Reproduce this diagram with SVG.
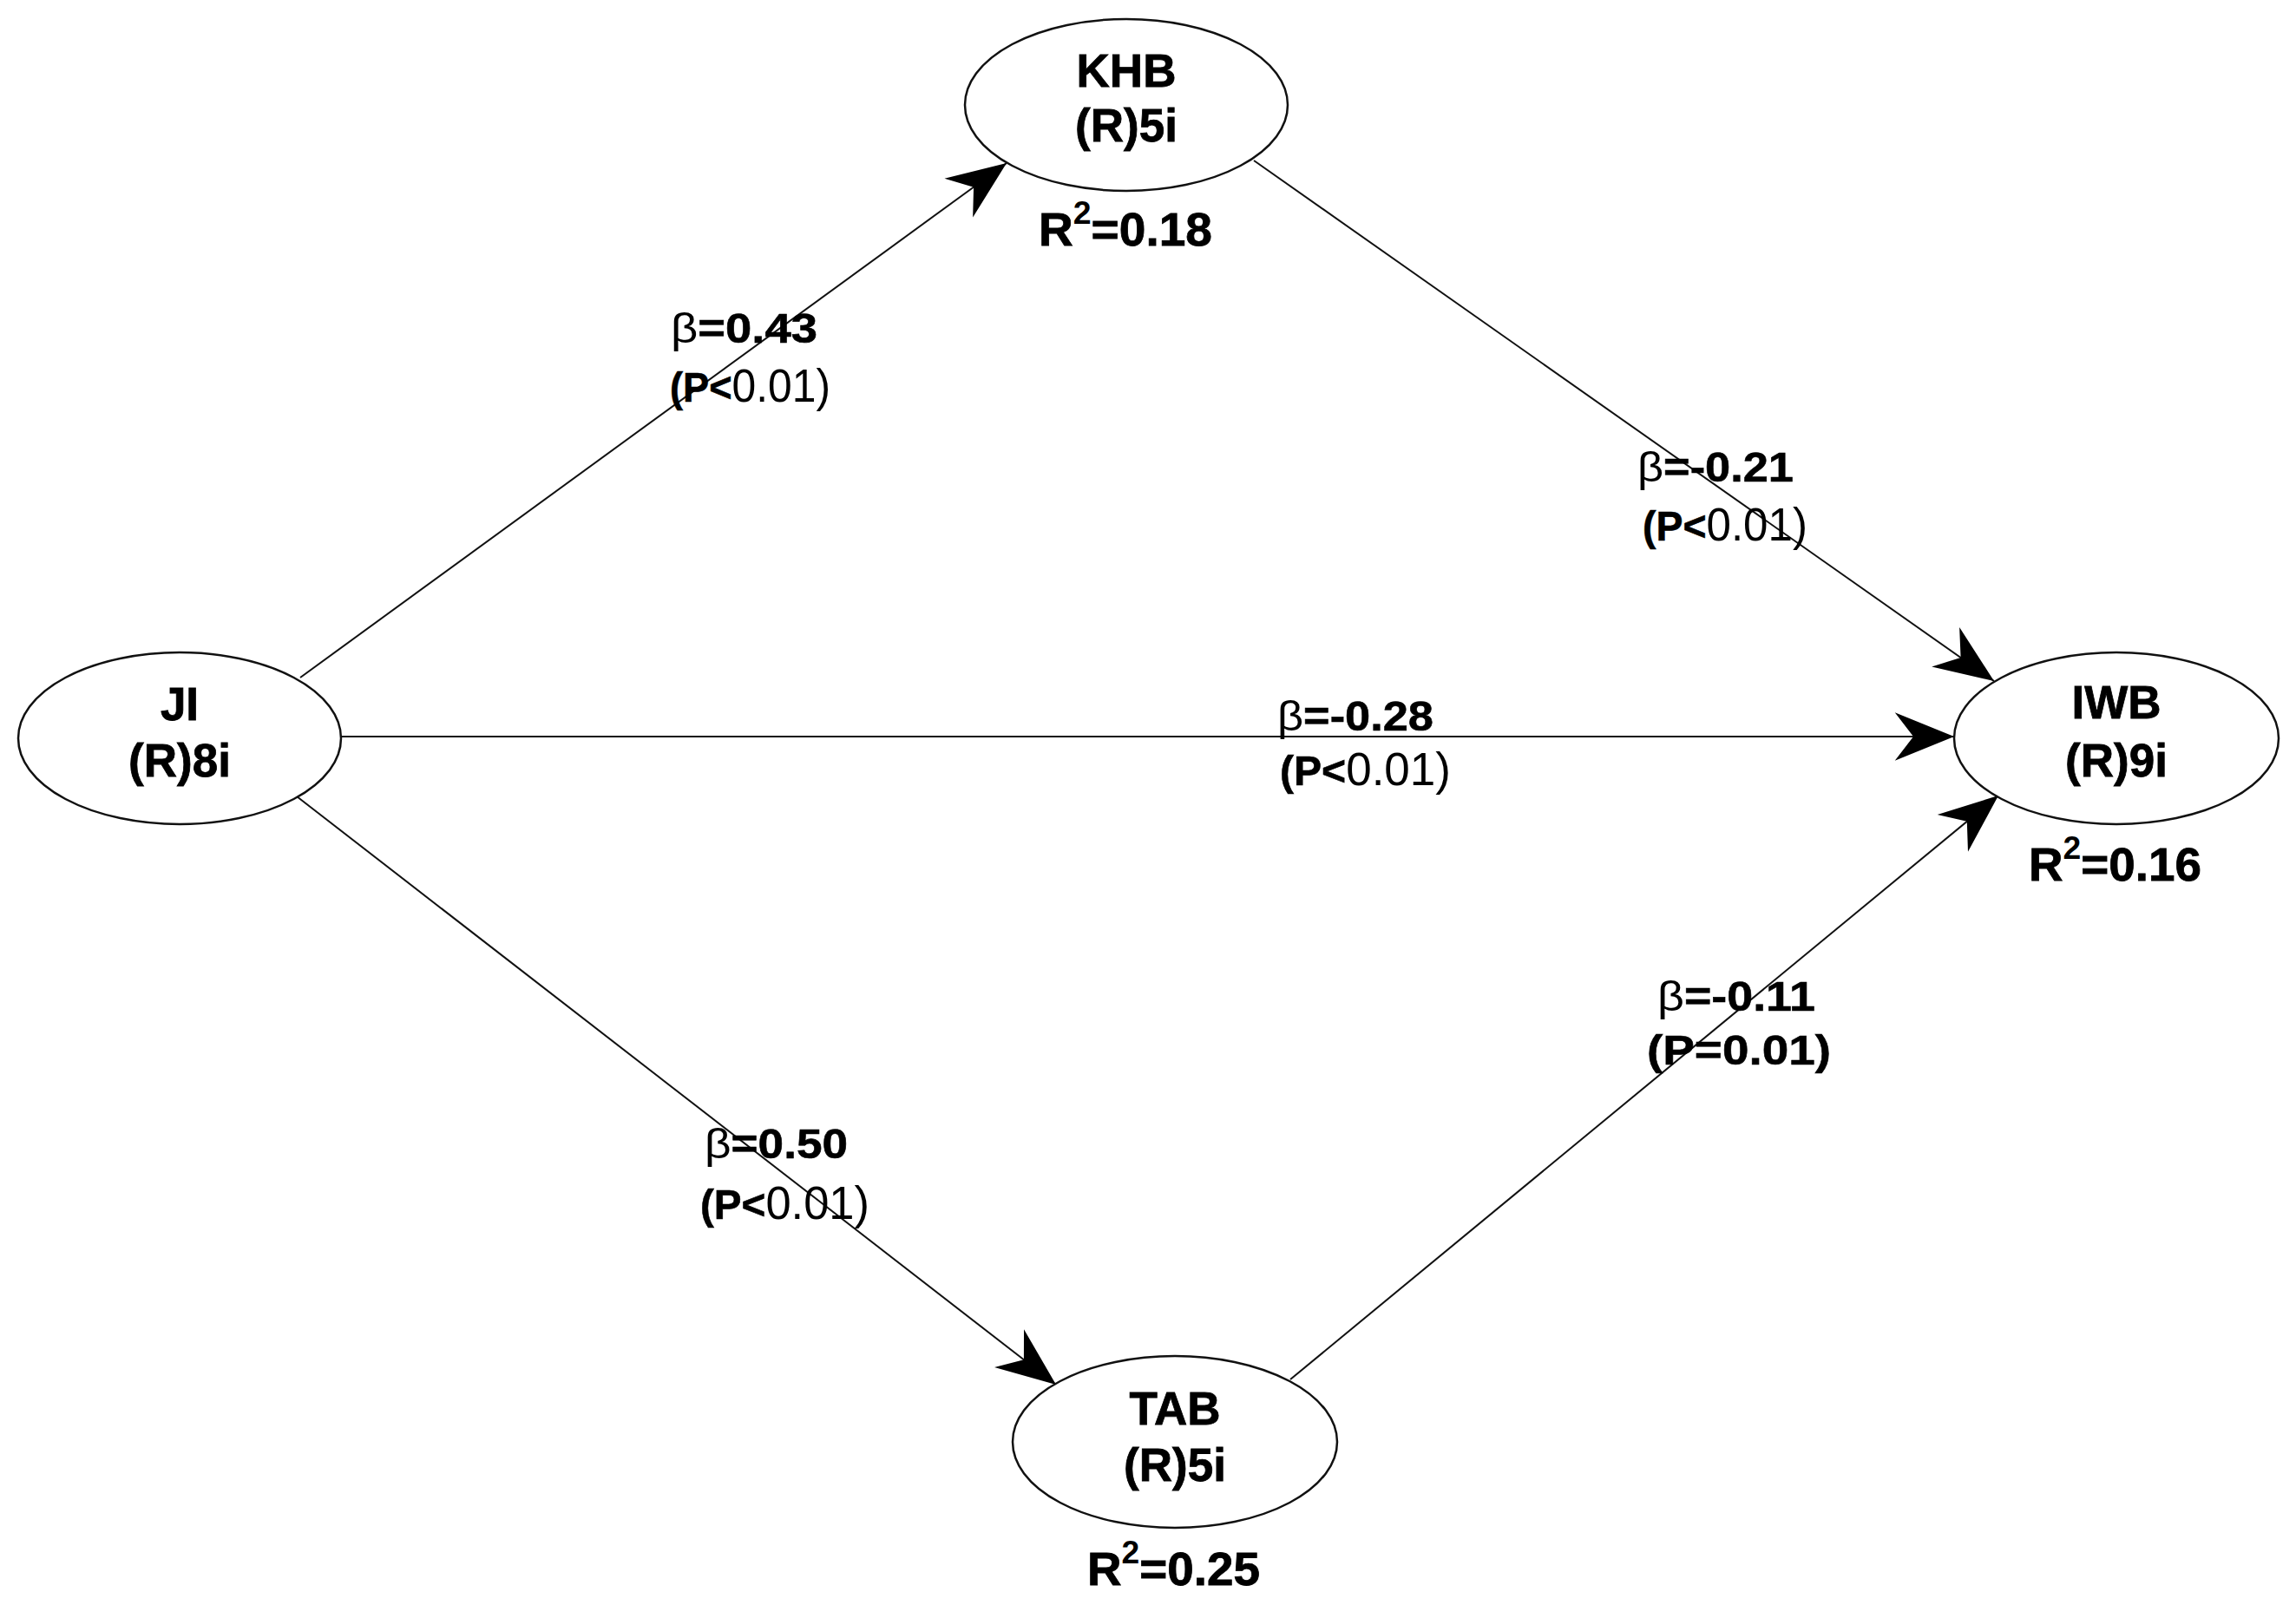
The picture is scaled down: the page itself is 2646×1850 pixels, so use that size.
<svg xmlns="http://www.w3.org/2000/svg" width="2646" height="1850" viewBox="0 0 2646 1850">
<defs>
<style>
.node ellipse{fill:#fff;stroke:#111;stroke-width:2.5}
.nt{font-family:"Liberation Sans",Arial,sans-serif;font-weight:bold;font-size:53px;fill:#000;stroke:#000;stroke-width:0.8;text-anchor:middle}
.r2{font-family:"Liberation Sans",Arial,sans-serif;font-weight:bold;font-size:53px;fill:#000;stroke:#000;stroke-width:0.8}
.sup{font-size:36px;stroke-width:0}
.lb{font-family:"Liberation Sans",Arial,sans-serif;font-weight:bold;font-size:49px;fill:#000;stroke:#000;stroke-width:0.6}
.beta{font-weight:normal;stroke-width:0}
.lt{font-weight:normal;font-size:54px;stroke-width:0}
.edge{stroke:#111;stroke-width:2;fill:none;marker-end:url(#arr)}
</style>
<marker id="arr" markerUnits="userSpaceOnUse" markerWidth="80" markerHeight="80" viewBox="-70 -30 75 60" refX="0" refY="0" orient="auto">
<path d="M0,0 L-64,-26 L-44,0 L-64,26 Z" fill="#000"/>
</marker>
</defs>
<rect width="2646" height="1850" fill="#fff"/>
<g id="connectors">
<line class="edge" x1="346" y1="781" x2="1160" y2="188"/>
<line class="edge" x1="1445" y1="185" x2="2298" y2="785"/>
<line class="edge" x1="393" y1="849" x2="2252" y2="849"/>
<line class="edge" x1="342" y1="918" x2="1217" y2="1596"/>
<line class="edge" x1="1487" y1="1590" x2="2303" y2="917"/>
</g>
<g id="edge-labels">
<text class="lb" x="773" y="395" textLength="169" lengthAdjust="spacingAndGlyphs"><tspan class="beta">β</tspan>=0.43</text>
<text class="lb" x="772" y="463" textLength="185" lengthAdjust="spacingAndGlyphs">(P&lt;<tspan class="lt">0.01)</tspan></text>
<text class="lb" x="1887" y="555" textLength="180" lengthAdjust="spacingAndGlyphs"><tspan class="beta">β</tspan>=-0.21</text>
<text class="lb" x="1893" y="623" textLength="190" lengthAdjust="spacingAndGlyphs">(P&lt;<tspan class="lt">0.01)</tspan></text>
<text class="lb" x="1472" y="842" textLength="180" lengthAdjust="spacingAndGlyphs"><tspan class="beta">β</tspan>=-0.28</text>
<text class="lb" x="1475" y="905" textLength="197" lengthAdjust="spacingAndGlyphs">(P&lt;<tspan class="lt">0.01)</tspan></text>
<text class="lb" x="1910" y="1165" textLength="182" lengthAdjust="spacingAndGlyphs"><tspan class="beta">β</tspan>=-0.11</text>
<text class="lb" x="1898" y="1227" textLength="212" lengthAdjust="spacingAndGlyphs">(P=0.01)</text>
<text class="lb" x="812" y="1335" textLength="165" lengthAdjust="spacingAndGlyphs"><tspan class="beta">β</tspan>=0.50</text>
<text class="lb" x="807" y="1405" textLength="195" lengthAdjust="spacingAndGlyphs">(P&lt;<tspan class="lt">0.01)</tspan></text>
</g>
<g id="node-KHB" class="node">
<ellipse cx="1298" cy="121" rx="186" ry="99"/>
<text class="nt" x="1298" y="100">KHB</text>
<text class="nt" x="1298" y="163">(R)5i</text>
<text class="r2" x="1197" y="283" textLength="200" lengthAdjust="spacingAndGlyphs">R<tspan class="sup" dy="-25">2</tspan><tspan dy="25">=0.18</tspan></text>
</g>
<g id="node-JI" class="node">
<ellipse cx="207" cy="851" rx="186" ry="99"/>
<text class="nt" x="207" y="830">JI</text>
<text class="nt" x="207" y="895">(R)8i</text>
</g>
<g id="node-IWB" class="node">
<ellipse cx="2439" cy="851" rx="187" ry="99"/>
<text class="nt" x="2439" y="828">IWB</text>
<text class="nt" x="2439" y="895">(R)9i</text>
<text class="r2" x="2338" y="1015" textLength="199" lengthAdjust="spacingAndGlyphs">R<tspan class="sup" dy="-25">2</tspan><tspan dy="25">=0.16</tspan></text>
</g>
<g id="node-TAB" class="node">
<ellipse cx="1354" cy="1662" rx="187" ry="99"/>
<text class="nt" x="1354" y="1642">TAB</text>
<text class="nt" x="1354" y="1707">(R)5i</text>
<text class="r2" x="1253" y="1827" textLength="199" lengthAdjust="spacingAndGlyphs">R<tspan class="sup" dy="-25">2</tspan><tspan dy="25">=0.25</tspan></text>
</g>
</svg>
